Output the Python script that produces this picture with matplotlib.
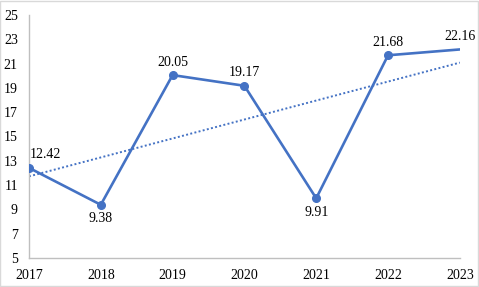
import numpy as np
import matplotlib
matplotlib.use("Agg")
import matplotlib.pyplot as plt
from matplotlib.patches import Rectangle

years = [2017, 2018, 2019, 2020, 2021, 2022, 2023]
values = [12.42, 9.38, 20.05, 19.17, 9.91, 21.68, 22.16]
labels = ["12.42", "9.38", "20.05", "19.17", "9.91", "21.68", "22.16"]
yticks = list(range(5, 26, 2))

plt.rcParams['font.family'] = ['Liberation Serif', 'DejaVu Serif']

fig = plt.figure(figsize=(4.79, 2.87), dpi=100)
ax = fig.add_axes([0.0605, 0.101, 0.8995, 0.847])
fig.patches.append(Rectangle((0.001, 0.002), 0.997, 0.995, transform=fig.transFigure,
                             fill=False, edgecolor='#d9d9d9', linewidth=1))

blue = '#4472C4'
ax.plot(years, values, color=blue, linewidth=1.9, zorder=3)
ax.plot(years[:-1], values[:-1], 'o', color=blue, markersize=5.5, zorder=4)

# linear trend line
k, b = np.polyfit(years, values, 1)
tx = np.array([years[0], years[-1]])
ax.plot(tx, k * tx + b, color=blue, linewidth=1.4, linestyle=(0, (1, 1.2)), zorder=2)

# data labels
for i, (x, y, t) in enumerate(zip(years, values, labels)):
    below = y < 10
    dy = -14 if below else 13
    ha = 'center'
    dx = 0
    if i == 0:
        ha = 'left'
        dx = 1
    ax.annotate(t, (x, y), xytext=(dx, dy), textcoords='offset pixels',
                ha=ha, va='center', fontsize=10)

ax.set_xlim(2017, 2023)
ax.set_ylim(5, 25)
ax.set_xticks(years)
ax.set_yticks(yticks)
ax.tick_params(length=0, labelsize=10)
ax.tick_params(axis='x', pad=8)
ax.tick_params(axis='y', pad=8)
for s in ['top', 'right']:
    ax.spines[s].set_visible(False)
for s in ['left', 'bottom']:
    ax.spines[s].set_color('#bfbfbf')
    ax.spines[s].set_linewidth(1)

fig.savefig('out.png', dpi=100)
